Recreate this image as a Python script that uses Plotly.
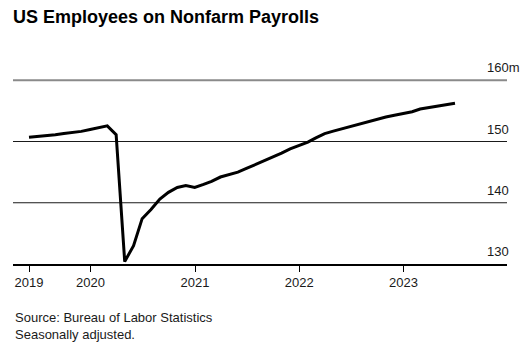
import plotly.graph_objects as go
import pandas as pd

# Monthly payrolls (millions), month-end dates May 2019 .. Jun 2023
dates = pd.date_range("2019-05-31", "2023-06-30", freq="ME").strftime("%Y-%m-%d").tolist()
payrolls = [
    150.7, 150.8, 150.95, 151.1, 151.3, 151.45, 151.65, 151.95,          # 2019 May-Dec
    152.2, 152.55, 151.1, 130.4, 133.0, 137.4, 138.9, 140.6, 141.7, 142.5, 142.8, 142.5,  # 2020
    143.0, 143.5, 144.2, 144.6, 145.0, 145.6, 146.2, 146.9, 147.5, 148.1, 148.8, 149.4,   # 2021
    149.9, 150.6, 151.3, 151.7, 152.1, 152.45, 152.85, 153.3, 153.65, 154.0, 154.3, 154.55,  # 2022
    154.85, 155.3, 155.55, 155.75, 156.0, 156.25,                        # 2023 Jan-Jun
]

x_tickvals = ["2019-05-31", "2020-01-01", "2021-01-01", "2022-01-01", "2023-01-01"]
x_ticktext = ["2019", "2020", "2021", "2022", "2023"]
y_labels_vals = [130, 140, 150, 160]
y_labels_text = ["130", "140", "150", "160m"]
dark_grid = [140, 150]
light_grid = [160]

FONT = "Liberation Sans, Arial, sans-serif"

fig = go.Figure()
fig.add_trace(go.Scatter(
    x=dates, y=payrolls, mode="lines",
    line=dict(color="#000000", width=3), hoverinfo="skip", showlegend=False,
))

for v in light_grid:
    fig.add_shape(type="line", xref="paper", x0=0, x1=1, yref="y", y0=v, y1=v,
                  line=dict(color="#8a8a8a", width=2), layer="below")
for v in dark_grid:
    fig.add_shape(type="line", xref="paper", x0=0, x1=1, yref="y", y0=v, y1=v,
                  line=dict(color="#1a1a1a", width=1), layer="below")

for v, t in zip(y_labels_vals, y_labels_text):
    fig.add_annotation(x=(485 - 13) / 494, xref="paper", y=v, yref="y", text=t,
                       showarrow=False, xanchor="left", yanchor="bottom", yshift=3,
                       font=dict(size=13, color="#1a1a1a", family=FONT))

fig.add_annotation(x=0, xref="paper", y=-(308 - 264) / 196, yref="paper",
                   text="Source: Bureau of Labor Statistics<br>Seasonally adjusted.",
                   showarrow=False, xanchor="left", yanchor="top", align="left",
                   font=dict(size=13, color="#1a1a1a", family=FONT))

fig.update_layout(
    width=532, height=354,
    margin=dict(l=13, r=25, t=68, b=90),
    paper_bgcolor="white", plot_bgcolor="white",
    title=dict(text="<b>US Employees on Nonfarm Payrolls</b>", xref="container", x=13 / 532,
               xanchor="left", yref="container", y=1 - 10 / 354, yanchor="top",
               font=dict(size=18, color="#000000", family=FONT)),
    xaxis=dict(
        range=["2019-04-05", "2023-12-29"], type="date",
        tickvals=x_tickvals, ticktext=x_ticktext,
        showgrid=False, zeroline=False,
        showline=True, linecolor="#000000", linewidth=1.5,
        ticks="outside", ticklen=6, tickcolor="#000000", tickwidth=1,
        tickfont=dict(size=13, color="#1a1a1a", family=FONT),
    ),
    yaxis=dict(
        range=[130, 162], showgrid=False, zeroline=False, showticklabels=False,
        showline=False,
    ),
)

fig.write_html("out.html")
